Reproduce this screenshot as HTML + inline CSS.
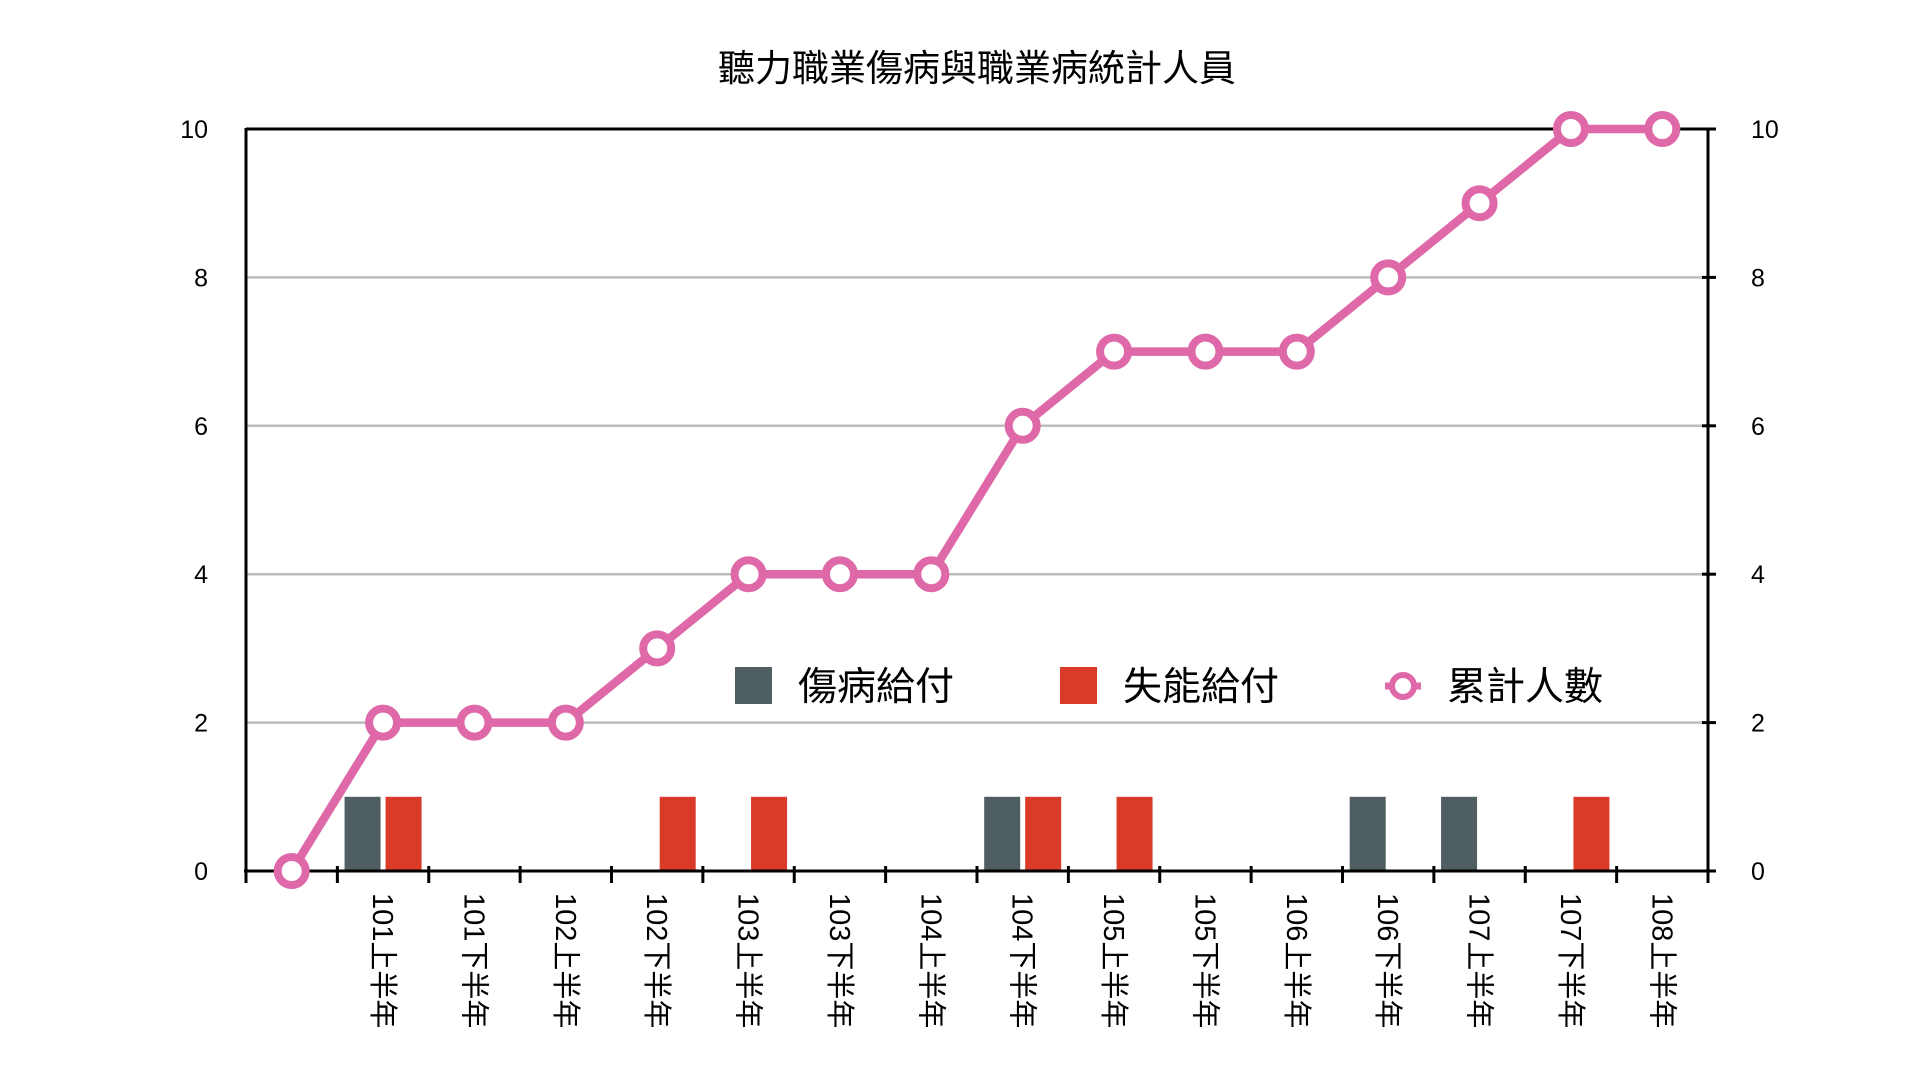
<!DOCTYPE html>
<html><head><meta charset="utf-8"><style>
html,body{margin:0;padding:0;background:#fff;}
svg{display:block;font-family:"Liberation Sans","Noto Sans CJK TC",sans-serif;}
</style></head><body>
<svg id="chart" width="1920" height="1080" viewBox="0 0 1920 1080" xmlns="http://www.w3.org/2000/svg">
<text x="977" y="81" font-size="37" text-anchor="middle" fill="#000">聽力職業傷病與職業病統計人員</text>
<g id="grid"></g><g id="bars"></g><g id="axes"></g><g id="line"></g><g id="xlabels"></g>
<g>
<rect x="735" y="667" width="37" height="37" fill="#4f5e60"/>
<text x="798" y="700" font-size="39">傷病給付</text>
<rect x="1060" y="667" width="37" height="37" fill="#d93b28"/>
<text x="1123" y="700" font-size="39">失能給付</text>
<line x1="1385" y1="686" x2="1421" y2="686" stroke="#de68a8" stroke-width="7"/>
<circle cx="1403" cy="686" r="11" fill="#fff" stroke="#de68a8" stroke-width="6"/>
<text x="1447" y="700" font-size="39">累計人數</text>
</g>
</svg>
<script>
const categories = ["", "101上半年","101下半年","102上半年","102下半年","103上半年","103下半年","104上半年","104下半年","105上半年","105下半年","106上半年","106下半年","107上半年","107下半年","108上半年"];
const injury = [0,1,0,0,0,0,0,0,1,0,0,0,1,1,0,0];
const disability = [0,1,0,0,1,1,0,0,1,1,0,0,0,0,1,0];
const cumulative = [0,2,2,2,3,4,4,4,6,7,7,7,8,9,10,10];
const yTicks = [0,2,4,6,8,10];

const NS = "http://www.w3.org/2000/svg";
const L = 246, R = 1708, T = 129, B = 871, yMax = 10;
const step = (R - L) / categories.length;
const xc = i => L + step * (i + 0.5);
const y = v => B - (B - T) * v / yMax;
function mk(tag, attrs, parent) { const e = document.createElementNS(NS, tag); for (const k in attrs) e.setAttribute(k, attrs[k]); parent.appendChild(e); return e; }
const grid = document.getElementById('grid'), bars = document.getElementById('bars'), axes = document.getElementById('axes'), line = document.getElementById('line'), xl = document.getElementById('xlabels');

yTicks.forEach(v => {
  if (v > 0 && v < yMax) {
    const g = mk('line', {x1: L, x2: R, y1: y(v), y2: y(v), stroke: '#bdbdbd', 'stroke-width': 2.5}, grid);
    
    
  }
  const tl = mk('text', {x: 208, y: y(v) + 9, 'font-size': 25, 'text-anchor': 'end'}, axes);
  tl.textContent = v;
  
  
  const tr = mk('text', {x: 1751, y: y(v) + 9, 'font-size': 25}, axes);
  tr.textContent = v;
  
  
  const tk = mk('line', {x1: R - 6, x2: R + 8, y1: y(v), y2: y(v), stroke: '#000', 'stroke-width': 3}, axes);
  
  
});

const topBorder = mk('line', {x1: L, x2: R, y1: T, y2: T, stroke: '#000', 'stroke-width': 3}, axes);


const la = mk('line', {x1: L, x2: L, y1: T - 1, y2: B + 1, stroke: '#000', 'stroke-width': 3}, axes);


const ra = mk('line', {x1: R, x2: R, y1: T - 1, y2: B + 1, stroke: '#000', 'stroke-width': 3}, axes);


const xa = mk('line', {x1: L - 2, x2: R + 8, y1: B, y2: B, stroke: '#000', 'stroke-width': 3}, axes);



const bw = 36, gap = 2.5;
categories.forEach((c, i) => {
  const tk = mk('line', {x1: L + step * i, x2: L + step * i, y1: B - 5, y2: B + 12, stroke: '#000', 'stroke-width': 3}, axes);
  
  
  if (injury[i] > 0) {
    const b = mk('rect', {x: xc(i) - gap - bw, y: y(injury[i]), width: bw, height: B - y(injury[i]) - 1.5, fill: '#4f5e60'}, bars);
    
    
  }
  if (disability[i] > 0) {
    const b = mk('rect', {x: xc(i) + gap, y: y(disability[i]), width: bw, height: B - y(disability[i]) - 1.5, fill: '#d93b28'}, bars);
    
    
  }
  if (c) {
    const t = mk('text', {x: 0, y: 0, 'font-size': 29, transform: `translate(${xc(i) - 10},${893}) rotate(90)`}, xl);
    t.textContent = c;
    
    
  }
});
const endTick = mk('line', {x1: R, x2: R, y1: B - 5, y2: B + 12, stroke: '#000', 'stroke-width': 3}, axes);



const pts = cumulative.map((v, i) => xc(i) + ',' + y(v)).join(' ');
const pl = mk('polyline', {points: pts, fill: 'none', stroke: '#de68a8', 'stroke-width': 8.5, 'stroke-linejoin': 'round'}, line);


cumulative.forEach((v, i) => {
  const m = mk('circle', {cx: xc(i), cy: y(v), r: 14, fill: '#fff', stroke: '#de68a8', 'stroke-width': 8}, line);
  
  
});
</script>
</body></html>
